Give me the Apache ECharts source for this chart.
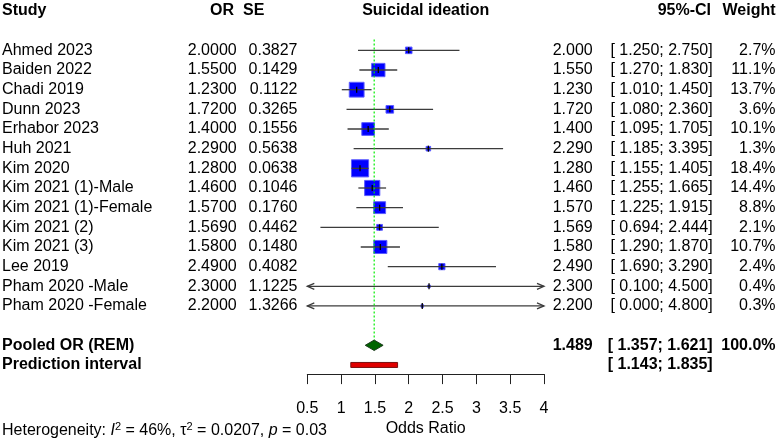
<!DOCTYPE html>
<html><head><meta charset="utf-8">
<script src="https://cdn.jsdelivr.net/npm/echarts@6/dist/echarts.min.js"></script>
<style>html,body{margin:0;padding:0;background:#fff}#c{width:777px;height:442px}</style>
</head><body><div id="c"></div>
<script>
// ---- data ----
const studies = ['Ahmed 2023','Baiden 2022','Chadi 2019','Dunn 2023','Erhabor 2023','Huh 2021','Kim 2020','Kim 2021 (1)-Male','Kim 2021 (1)-Female','Kim 2021 (2)','Kim 2021 (3)','Lee 2019','Pham 2020 -Male','Pham 2020 -Female'];
const orValues = [2.0000,1.5500,1.2300,1.7200,1.4000,2.2900,1.2800,1.4600,1.5700,1.5690,1.5800,2.4900,2.3000,2.2000];
const seValues = [0.3827,0.1429,0.1122,0.3265,0.1556,0.5638,0.0638,0.1046,0.1760,0.4462,0.1480,0.4082,1.1225,1.3266];
const ciLower = [1.250,1.270,1.010,1.080,1.095,1.185,1.155,1.255,1.225,0.694,1.290,1.690,0.100,0.000];
const ciUpper = [2.750,1.830,1.450,2.360,1.705,3.395,1.405,1.665,1.915,2.444,1.870,3.290,4.500,4.800];
const weights = [2.7,11.1,13.7,3.6,10.1,1.3,18.4,14.4,8.8,2.1,10.7,2.4,0.4,0.3];
const pooledOR = [1.489,1.357,1.621];       // estimate, lower, upper
const pooledWeight = [100.0];
const predictionInterval = [1.143,1.835];
const axisRange = [0.5,4];
const axisStep = [0.5];

const FF = '"Liberation Sans", Arial, Helvetica, sans-serif';
const AX_MIN = axisRange[0], AX_MAX = axisRange[1];
const POOLED_ROW = 15, PRED_ROW = 16;

// table column positions (layout)
const COL = {study:2, or:236.7, se:297.5, est:592.7, ci:712.7, w:775.5};

const chart = echarts.init(document.getElementById('c'), null, {renderer:'canvas'});

function txt(x,y,text,align,bold){
  return {type:'text', silent:true, style:{x:x,y:y,text:text,align:align,verticalAlign:'middle',
    font:(bold?'bold ':'')+'16px '+FF, fill:'#000'}};
}

function renderStudy(params, api){
  const est=api.value(0), row=api.value(1), lo=api.value(2), hi=api.value(3), w=api.value(4);
  const p = api.coord([est,row]);
  const pl = api.coord([Math.max(lo,AX_MIN),row]);
  const pr = api.coord([Math.min(hi,AX_MAX),row]);
  const side = Math.max(Math.sqrt(w)*4.0, 2.6);
  const ch = [];
  ch.push({type:'rect', shape:{x:p[0]-side/2,y:p[1]-side/2,width:side,height:side},
    style:{fill:'#0000ff', stroke:'#5c5cff', lineWidth:1}});
  ch.push({type:'line', shape:{x1:pl[0],y1:p[1],x2:pr[0],y2:p[1]}, style:{stroke:'#3c3c3c',lineWidth:1.3}});
  ch.push({type:'line', shape:{x1:p[0],y1:p[1]-3,x2:p[0],y2:p[1]+3}, style:{stroke:'#000',lineWidth:1.3}});
  if(lo < AX_MIN){
    ch.push({type:'polyline', shape:{points:[[pl[0]+7,p[1]-3],[pl[0],p[1]],[pl[0]+7,p[1]+3]]}, style:{stroke:'#3c3c3c',lineWidth:1.3,fill:null}});
  }
  if(hi > AX_MAX){
    ch.push({type:'polyline', shape:{points:[[pr[0]-7,p[1]-3],[pr[0],p[1]],[pr[0]-7,p[1]+3]]}, style:{stroke:'#3c3c3c',lineWidth:1.3,fill:null}});
  }
  return {type:'group', children:ch};
}

function renderStudyText(params, api){
  const i = params.dataIndex;
  const y = api.coord([AX_MIN, api.value(1)])[1];
  return {type:'group', children:[
    txt(COL.study,y,studies[i],'left'),
    txt(COL.or,y,orValues[i].toFixed(4),'right'),
    txt(COL.se,y,seValues[i].toFixed(4),'right'),
    txt(COL.est,y,orValues[i].toFixed(3),'right'),
    txt(COL.ci,y,'[ '+ciLower[i].toFixed(3)+'; '+ciUpper[i].toFixed(3)+']','right'),
    txt(COL.w,y,weights[i].toFixed(1)+'%','right')
  ]};
}

function renderPooled(params, api){
  const est=pooledOR[0], lo=pooledOR[1], hi=pooledOR[2];
  const c = api.coord([est,POOLED_ROW]);
  const l = api.coord([lo,POOLED_ROW]);
  const r = api.coord([hi,POOLED_ROW]);
  const top = api.coord([est,-0.55]);
  const pl = api.coord([predictionInterval[0],PRED_ROW]);
  const pr = api.coord([predictionInterval[1],PRED_ROW]);
  const h = 5.2;
  return {type:'group', children:[
    {type:'line', shape:{x1:c[0],y1:top[1],x2:c[0],y2:c[1]-h}, style:{stroke:'#00ee00',lineWidth:1.2,lineDash:[2,2]}},
    {type:'polygon', shape:{points:[[l[0],c[1]],[c[0],c[1]-h],[r[0],c[1]],[c[0],c[1]+h]]}, style:{fill:'#006400',stroke:'#1c3a1c',lineWidth:1}},
    {type:'rect', shape:{x:pl[0],y:pl[1]-2.5,width:pr[0]-pl[0],height:5}, style:{fill:'#e00000',stroke:'#7a1010',lineWidth:1}},
    txt(COL.study,c[1],'Pooled OR (REM)','left',true),
    txt(COL.est,c[1],est.toFixed(3),'right',true),
    txt(COL.ci,c[1],'[ '+lo.toFixed(3)+'; '+hi.toFixed(3)+']','right',true),
    txt(COL.w,c[1],pooledWeight[0].toFixed(1)+'%','right',true),
    txt(COL.study,pl[1],'Prediction interval','left',true),
    txt(COL.ci,pl[1],'[ '+predictionInterval[0].toFixed(3)+'; '+predictionInterval[1].toFixed(3)+']','right',true)
  ]};
}

const studyData = studies.map((s,i)=>[orValues[i], i, ciLower[i], ciUpper[i], weights[i]]);

chart.setOption({
  animation:false,
  backgroundColor:'#fff',
  grid:{left:307.3, right:233, top:30.7, bottom:62, containLabel:false},
  xAxis:{type:'value', min:AX_MIN, max:AX_MAX, interval:axisStep[0], position:'bottom',
    splitLine:{show:false},
    axisLine:{show:true, onZero:false, lineStyle:{color:'#222',width:1}},
    axisTick:{show:true, length:10, lineStyle:{color:'#222',width:1}},
    axisLabel:{color:'#000', fontSize:16, fontFamily:FF, margin:26},
    name:'Odds Ratio', nameLocation:'middle', nameGap:46,
    nameTextStyle:{color:'#000', fontSize:16, fontFamily:FF}
  },
  yAxis:{type:'value', min:-1, max:16.465, inverse:true, show:false},
  graphic:[
    {type:'text', left:2, top:3, style:{text:'Study', font:'bold 16px '+FF, fill:'#000'}},
    {type:'text', x:234, y:11, style:{text:'OR', align:'right', verticalAlign:'middle', font:'bold 16px '+FF, fill:'#000'}},
    {type:'text', x:243, y:11, style:{text:'SE', align:'left', verticalAlign:'middle', font:'bold 16px '+FF, fill:'#000'}},
    {type:'text', x:425.7, y:11, style:{text:'Suicidal ideation', align:'center', verticalAlign:'middle', font:'bold 16px '+FF, fill:'#000'}},
    {type:'text', x:711, y:11, style:{text:'95%-CI', align:'right', verticalAlign:'middle', font:'bold 16px '+FF, fill:'#000'}},
    {type:'text', x:775.5, y:11, style:{text:'Weight', align:'right', verticalAlign:'middle', font:'bold 16px '+FF, fill:'#000'}},
    {type:'text', x:2, y:430.5, style:{
      text:'{a|Heterogeneity: }{i|I}{s|2}{a| = 46%, τ}{s|2}{a| = 0.0207, }{i|p}{a| = 0.03}',
      verticalAlign:'middle', align:'left',
      rich:{
        a:{fontSize:16, fontFamily:FF, color:'#000', lineHeight:18},
        i:{fontSize:16, fontFamily:FF, fontStyle:'italic', color:'#000', lineHeight:18},
        s:{fontSize:11, fontFamily:FF, color:'#000', verticalAlign:'top', lineHeight:11}
      }}}
  ],
  series:[
    {type:'custom', name:'studies', clip:false, silent:true, renderItem:renderStudy, data:studyData, encode:{x:0,y:1}},
    {type:'custom', name:'studyText', clip:false, silent:true, renderItem:renderStudyText, data:studyData, encode:{x:0,y:1}},
    {type:'custom', name:'pooled', clip:false, silent:true, renderItem:renderPooled, data:[[pooledOR[0], POOLED_ROW]], encode:{x:0,y:1}}
  ]
});
</script>
</body></html>
